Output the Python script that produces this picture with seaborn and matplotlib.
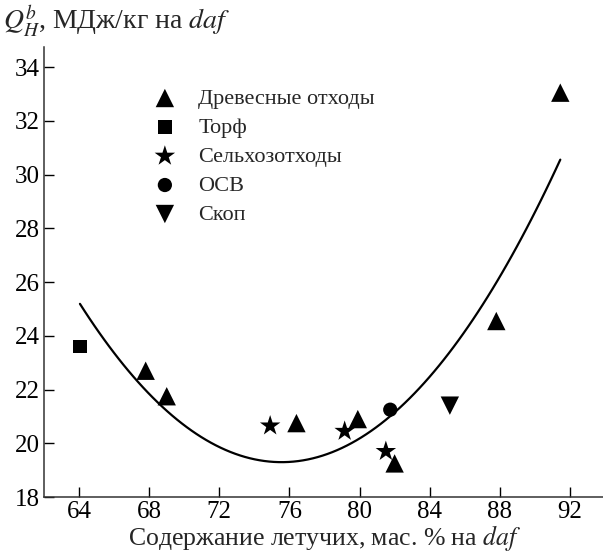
import pandas as pd
import matplotlib
matplotlib.use('Agg')
import matplotlib.pyplot as plt
import seaborn as sns

# Values
wood_x = [67.8, 69.0, 76.4, 79.9, 82.0, 87.8, 91.45]
wood_y = [22.7, 21.75, 20.75, 20.9, 19.25, 24.55, 33.05]
peat_x = [64.05]
peat_y = [23.6]
agro_x = [74.9, 79.15, 81.5]
agro_y = [20.65, 20.45, 19.7]
sludge_x = [81.75]
sludge_y = [21.25]
skop_x = [85.15]
skop_y = [21.4]

groups = ['Древесные отходы', 'Торф', 'Сельхозотходы', 'ОСВ', 'Скоп']
xticks = [64, 68, 72, 76, 80, 84, 88, 92]
yticks = [18, 20, 22, 24, 26, 28, 30, 32, 34]


def build_frame():
    parts = [
        pd.DataFrame({'x': wood_x, 'y': wood_y, 'group': groups[0]}),
        pd.DataFrame({'x': peat_x, 'y': peat_y, 'group': groups[1]}),
        pd.DataFrame({'x': agro_x, 'y': agro_y, 'group': groups[2]}),
        pd.DataFrame({'x': sludge_x, 'y': sludge_y, 'group': groups[3]}),
        pd.DataFrame({'x': skop_x, 'y': skop_y, 'group': groups[4]}),
    ]
    return pd.concat(parts, ignore_index=True)


def plot(df):
    sns.set_style('ticks')
    plt.rcParams['font.family'] = ['Liberation Serif', 'DejaVu Serif']
    plt.rcParams['mathtext.fontset'] = 'stix'

    fig = plt.figure(figsize=(6.03, 5.53), dpi=100)
    ax = fig.add_axes([44 / 603, 56 / 553, 561 / 603, 450 / 553])

    # quadratic trend through all points
    sns.regplot(data=df, x='x', y='y', order=2, scatter=False, ci=None,
                line_kws={'color': 'black', 'lw': 1.6}, ax=ax)

    markers = ['^', 's', '*', 'o', 'v']
    sizes = [175, 95, 240, 105, 175]
    for g, m, s in zip(groups, markers, sizes):
        sns.scatterplot(data=df[df['group'] == g], x='x', y='y', marker=m, s=s,
                        color='black', edgecolor='none', label=g, ax=ax)

    ax.set_xlim(62, 94)
    ax.set_ylim(18, 34.75)
    ax.set_xticks(xticks)
    ax.set_yticks(yticks)
    ax.tick_params(direction='in', length=7, width=1, labelsize=18, colors='black', pad=3)
    for side in ['top', 'right']:
        ax.spines[side].set_visible(False)
    for side in ['left', 'bottom']:
        ax.spines[side].set_color('#333333')
        ax.spines[side].set_linewidth(1.1)

    ax.set_xlabel('Содержание летучих, мас. % на $\\it{daf}$', fontsize=18.5, labelpad=0)
    ax.set_ylabel('')
    fig.text(3 / 603, 1 - 29 / 553, '$Q_H^b$, МДж/кг на $\\it{daf}$',
             fontsize=20, ha='left', va='baseline')

    ax.legend(loc='upper left', bbox_to_anchor=(0.16, 0.928), frameon=False,
              fontsize=16, handletextpad=0.5, labelspacing=0.38, borderaxespad=0)

    fig.savefig('out.png', dpi=100)


def main():
    df = build_frame()
    plot(df)


if __name__ == "__main__":
    main()
